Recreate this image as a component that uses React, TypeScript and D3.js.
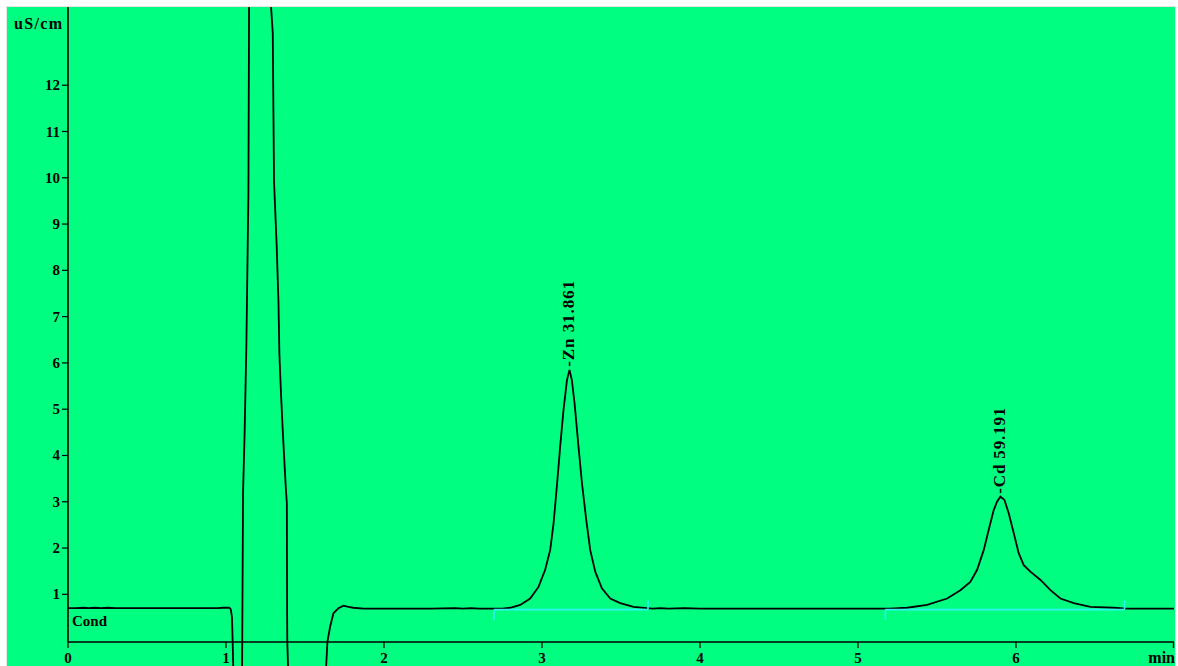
import React from "react";
import * as d3 from "d3";

const traceTime = [
  0, 0.05, 0.1, 0.13, 0.17, 0.21, 0.25, 0.3, 0.5, 0.8, 0.95, 0.98, 1.02, 1.03, 1.038, 1.042, 1.046, 1.06, 1.08, 1.098,
  1.102, 1.108, 1.118, 1.129, 1.142, 1.146, 1.16, 1.21, 1.27, 1.285, 1.296, 1.3, 1.304, 1.321, 1.332, 1.338, 1.349,
  1.36, 1.37, 1.378, 1.385, 1.387, 1.388, 1.393, 1.42, 1.5, 1.6, 1.634, 1.642, 1.659, 1.68, 1.712, 1.743, 1.775,
  1.806, 1.87, 2.0, 2.3, 2.45, 2.5, 2.55, 2.6, 2.75, 2.799, 2.862, 2.925, 2.978, 3.02, 3.052, 3.073, 3.094, 3.115,
  3.136, 3.158, 3.174, 3.189, 3.206, 3.231, 3.253, 3.28, 3.305, 3.337, 3.379, 3.432, 3.495, 3.579, 3.664, 3.7, 3.75,
  3.8, 3.9, 4.0, 4.3, 4.6, 5.0, 5.2, 5.311, 5.437, 5.564, 5.648, 5.711, 5.754, 5.796, 5.827, 5.859, 5.88, 5.901,
  5.927, 5.954, 5.986, 6.017, 6.049, 6.091, 6.155, 6.218, 6.281, 6.366, 6.471, 6.619, 6.7, 7.0,
];
const traceValue = [
  0.7, 0.7, 0.71, 0.7, 0.71, 0.7, 0.71, 0.7, 0.7, 0.7, 0.7, 0.71, 0.71, 0.68, 0.5, 0.0, -0.6, -2.0, -2.5, -1.5,
  -0.5, 3.2, 4.5, 6.4, 9.7, 13.7, 16.5, 18.0, 16.0, 13.7, 13.13, 11.47, 9.92, 8.51, 7.32, 6.18, 5.27,
  4.48, 3.84, 3.33, 2.97, 0.5, -0.03, -0.6, -2.0, -2.6, -1.5, -0.55, -0.02, 0.3, 0.59, 0.7, 0.754, 0.73,
  0.71, 0.69, 0.69, 0.69, 0.7, 0.69, 0.7, 0.69, 0.69, 0.71, 0.77, 0.91, 1.16, 1.53, 1.96, 2.53, 3.33, 4.19,
  4.98, 5.63, 5.85, 5.63, 5.13, 4.19, 3.4, 2.61, 1.96, 1.49, 1.13, 0.91, 0.81, 0.73, 0.7, 0.69, 0.7,
  0.69, 0.7, 0.69, 0.69, 0.69, 0.69, 0.69, 0.71, 0.77, 0.91, 1.09, 1.27, 1.53, 1.96, 2.39, 2.82, 3.0, 3.11,
  3.04, 2.75, 2.32, 1.89, 1.63, 1.49, 1.31, 1.09, 0.91, 0.81, 0.73, 0.71, 0.69, 0.69,
];

const peakNames = ["Zn 31.861", "Cd 59.191"];
const peakTime = [3.174, 5.901];
const peakValue = [5.85, 3.11];
const baselineStart = [2.697, 5.173];
const baselineEnd = [3.671, 6.687];
const baselineLevel = [0.67, 0.67];

const xTicks = [0, 1, 2, 3, 4, 5, 6];
const yTicks = [1, 2, 3, 4, 5, 6, 7, 8, 9, 10, 11, 12];
const xUnit = "min";
const yUnit = "uS/cm";
const channelName = "Cond";

const W = 1178;
const H = 666;
const GREEN = "#00ff80";
const FONT = "'Liberation Serif', 'DejaVu Serif', serif";

export default function App() {
  const x = d3.scaleLinear().domain([0, 7]).range([68, 1174]);
  const y = d3.scaleLinear().domain([-0.03, 13.69]).range([642, 7]);
  const pts: [number, number][] = traceTime.map((t, i) => [t, traceValue[i]]);
  const line = d3
    .line<[number, number]>()
    .x((d) => x(d[0]))
    .y((d) => y(d[1]));
  const x0 = x(0);
  const y0 = y(-0.03);
  return (
    <div style={{ position: "fixed", left: 0, top: 0, width: W, height: H, background: "#fff" }}>
      <svg width={W} height={H} style={{ display: "block" }}>
        <defs>
          <clipPath id="plotclip">
            <rect x={x0} y={7} width={1175 - x0} height={H - 7} />
          </clipPath>
        </defs>
        <rect x={6} y={6} width={1170} height={H} fill="#e4e4e4" />
        <rect x={7} y={7} width={1168} height={H - 7} fill={GREEN} />
        {/* axes */}
        <line x1={x0} y1={7} x2={x0} y2={y0} stroke="#000" strokeWidth={1.6} />
        <line x1={x0} y1={y0} x2={x(7)} y2={y0} stroke="#000" strokeWidth={1.6} />
        <line x1={x(7) - 0.5} y1={y0} x2={x(7) - 0.5} y2={y0 + 6} stroke="#000" strokeWidth={1.4} />
        {yTicks.map((v) => (
          <g key={"y" + v}>
            <line x1={x0 - 6} x2={x0} y1={y(v)} y2={y(v)} stroke="#000" strokeWidth={1.2} />
            <text
              x={x0 - 8}
              y={y(v) + 5}
              textAnchor="end"
              fontFamily={FONT}
              fontWeight="bold"
              fontSize={15}
              fill="#000"
            >
              {v}
            </text>
          </g>
        ))}
        {xTicks.map((v) => (
          <g key={"x" + v}>
            <line x1={x(v)} x2={x(v)} y1={y0} y2={y0 + 6} stroke="#000" strokeWidth={1.2} />
            <text
              x={x(v)}
              y={663}
              textAnchor="middle"
              fontFamily={FONT}
              fontWeight="bold"
              fontSize={15}
              fill="#000"
            >
              {v}
            </text>
          </g>
        ))}
        <text x={1175} y={663} textAnchor="end" fontFamily={FONT} fontWeight="bold" fontSize={16} fill="#000">
          {xUnit}
        </text>
        <text x={14} y={29} fontFamily={FONT} fontWeight="bold" fontSize={16} fill="#000" textLength={48}>
          {yUnit}
        </text>
        <text x={72} y={626} fontFamily={FONT} fontWeight="bold" fontSize={15} fill="#000">
          {channelName}
        </text>
        <path d={line(pts) || ""} fill="none" stroke="#000" strokeWidth={1.8} clipPath="url(#plotclip)" />
        {/* integration baselines */}
        {baselineStart.map((s, i) => {
          const yb = y(baselineLevel[i]);
          return (
            <g key={"b" + i} stroke="#30f4f4" strokeWidth={1.6} fill="none">
              <line x1={x(s)} x2={x(baselineEnd[i])} y1={yb} y2={yb} />
              <line x1={x(s)} x2={x(s)} y1={yb} y2={yb + 10} />
              <line x1={x(baselineEnd[i])} x2={x(baselineEnd[i])} y1={yb} y2={yb - 9} />
            </g>
          );
        })}
        {peakNames.map((n, i) => (
          <text
            key={n}
            transform={`translate(${x(peakTime[i]) + 5},${y(peakValue[i]) - 3}) rotate(-90)`}
            fontFamily={FONT}
            fontSize={17}
            fontWeight="bold"
            fill="#000"
            textLength={86}
          >
            {"-" + n}
          </text>
        ))}
      </svg>
    </div>
  );
}
